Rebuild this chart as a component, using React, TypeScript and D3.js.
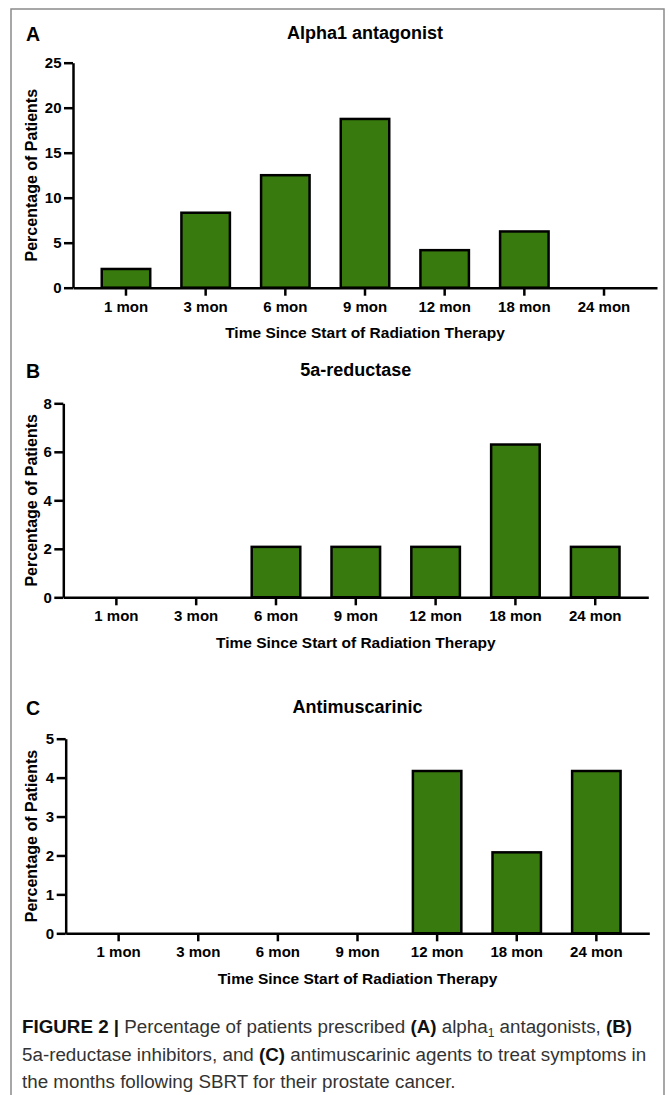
import React, { useEffect, useRef } from 'react'
import * as d3 from 'd3'

const width = 669
const height = 1095

const months = ['1 mon', '3 mon', '6 mon', '9 mon', '12 mon', '18 mon', '24 mon']
const alphaValues = [2.08, 8.33, 12.5, 18.75, 4.17, 6.25, 0]
const reductaseValues = [0, 0, 2.08, 2.08, 2.08, 6.3, 2.08]
const antimuscarinicValues = [0, 0, 0, 0, 4.17, 2.08, 4.17]
const alphaTicks = [0, 5, 10, 15, 20, 25]
const reductaseTicks = [0, 2, 4, 6, 8]
const antimuscarinicTicks = [0, 1, 2, 3, 4, 5]

const panels = [
  { letter: 'A', title: 'Alpha1 antagonist', values: alphaValues, ticks: alphaTicks, left: 73, right: 657, top: 62.7, bottom: 287.7, titleY: 39 },
  { letter: 'B', title: '5a-reductase', values: reductaseValues, ticks: reductaseTicks, left: 63.3, right: 648.3, top: 403.3, bottom: 597.3, titleY: 376 },
  { letter: 'C', title: 'Antimuscarinic', values: antimuscarinicValues, ticks: antimuscarinicTicks, left: 65.7, right: 649.3, top: 738.7, bottom: 933.3, titleY: 713 }
]

const font = '"Liberation Sans", Arial, Helvetica, sans-serif'
const green = '#387a0d'

const App = () => {
  const ref = useRef<SVGSVGElement>(null)

  useEffect(() => {
    const svg = d3.select(ref.current)
    svg.selectAll('*').remove()

    // grey frame around the figure
    svg.append('rect')
      .attr('x', 11).attr('y', 9)
      .attr('width', 653).attr('height', 1110)
      .attr('fill', 'none').attr('stroke', '#8a8a8a').attr('stroke-width', 1.5)

    panels.forEach(p => {
      const g = svg.append('g')
      const x = d3.scaleBand<string>()
        .domain(months)
        .range([p.left, p.right])
        .paddingInner(0.36)
        .paddingOuter(0.345)
      const y = d3.scaleLinear()
        .domain([0, d3.max(p.ticks) as number])
        .range([p.bottom, p.top])

      // bars (zero values draw nothing)
      g.selectAll('rect.bar')
        .data(p.values.map((v, i) => ({ m: months[i], v })).filter(d => d.v > 0))
        .join('rect')
        .attr('class', 'bar')
        .attr('x', d => (x(d.m) as number) + 1.25)
        .attr('width', x.bandwidth() - 2.5)
        .attr('y', d => y(d.v))
        .attr('height', d => p.bottom - y(d.v))
        .attr('fill', green)
        .attr('stroke', '#000')
        .attr('stroke-width', 2.5)

      const yAxis = g.append('g')
        .attr('transform', `translate(${p.left},0)`)
        .call(d3.axisLeft(y).tickValues(p.ticks).tickFormat(d3.format('d')).tickSize(9).tickSizeOuter(0).tickPadding(2.5))
      const xAxis = g.append('g')
        .attr('transform', `translate(0,${p.bottom})`)
        .call(d3.axisBottom(x).tickSize(8).tickSizeOuter(0).tickPadding(5.5))

      ;[yAxis, xAxis].forEach(a => {
        a.selectAll('path, line').attr('stroke', '#000').attr('stroke-width', 2.5)
        a.selectAll('text')
          .attr('fill', '#000')
          .style('font-family', font)
          .style('font-weight', 'bold')
          .style('font-size', '15px')
      })

      const mid = (p.left + p.right) / 2
      g.append('text')
        .attr('x', mid).attr('y', p.titleY)
        .attr('text-anchor', 'middle')
        .style('font-family', font).style('font-weight', 'bold').style('font-size', '18px')
        .text(p.title)
      g.append('text')
        .attr('x', 26).attr('y', p.titleY + 2)
        .style('font-family', font).style('font-weight', 'bold').style('font-size', '19.5px')
        .text(p.letter)
      g.append('text')
        .attr('x', mid).attr('y', p.bottom + 50.5)
        .attr('text-anchor', 'middle')
        .style('font-family', font).style('font-weight', 'bold').style('font-size', '15.5px')
        .text('Time Since Start of Radiation Therapy')
      g.append('text')
        .attr('transform', `translate(37,${(p.top + p.bottom) / 2}) rotate(-90)`)
        .attr('text-anchor', 'middle')
        .style('font-family', font).style('font-weight', 'bold').style('font-size', '16px')
        .text('Percentage of Patients')
    })

    // caption
    const cap = svg.append('g')
      .style('font-family', font).style('font-size', '18.8px').attr('fill', '#333')
    const l1 = cap.append('text').attr('x', 22).attr('y', 1033)
    l1.append('tspan').attr('font-weight', 'bold').attr('fill', '#111').text('FIGURE 2 | ')
    l1.append('tspan').text('Percentage of patients prescribed ')
    l1.append('tspan').attr('font-weight', 'bold').attr('fill', '#111').text('(A)')
    l1.append('tspan').text(' alpha')
    l1.append('tspan').attr('font-size', '12px').attr('dy', 4).text('1')
    l1.append('tspan').attr('dy', -4).text(' antagonists, ')
    l1.append('tspan').attr('font-weight', 'bold').attr('fill', '#111').text('(B)')
    const l2 = cap.append('text').attr('x', 22).attr('y', 1061)
    l2.append('tspan').text('5a-reductase inhibitors, and ')
    l2.append('tspan').attr('font-weight', 'bold').attr('fill', '#111').text('(C)')
    l2.append('tspan').text(' antimuscarinic agents to treat symptoms in')
    cap.append('text').attr('x', 22).attr('y', 1088)
      .text('the months following SBRT for their prostate cancer.')
  }, [])

  return (
    <svg
      ref={ref}
      width={width}
      height={height}
      style={{ position: 'absolute', left: 0, top: 0, background: '#fff' }}
    />
  )
}

export default App
